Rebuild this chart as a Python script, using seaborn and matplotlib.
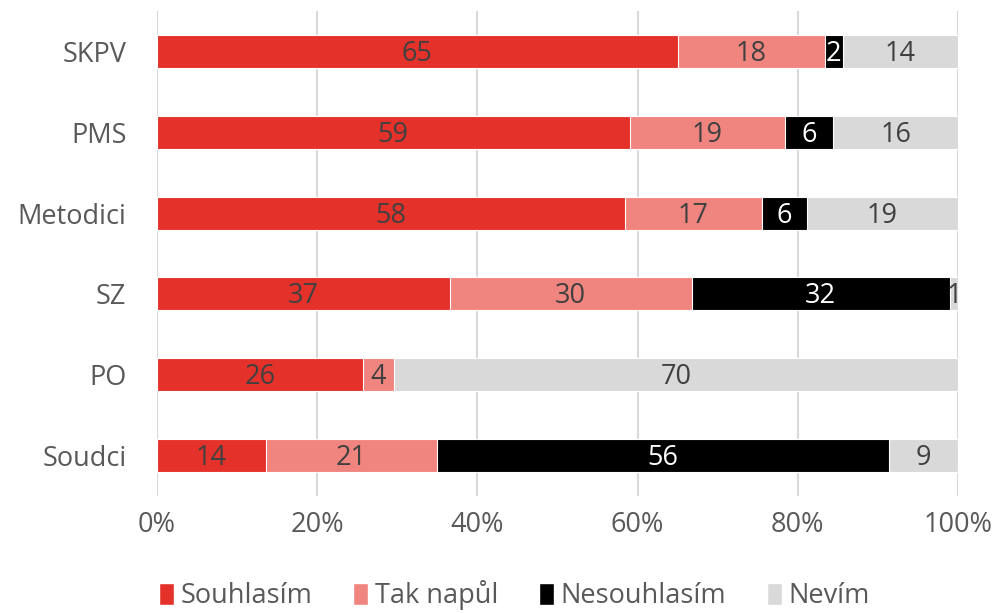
import pandas as pd
import seaborn as sns
import matplotlib.pyplot as plt
from matplotlib.patches import Patch

# data (shares in %)
groups = ['SKPV', 'PMS', 'Metodici', 'SZ', 'PO', 'Soudci']
souhlasim = [65.0, 59.0, 58.4, 36.6, 25.7, 13.6]
tak_napul = [18.4, 19.4, 17.1, 30.2, 3.9, 21.4]
nesouhlasim = [2.2, 6.0, 5.6, 32.3, 0.0, 56.4]
nevim = [14.4, 15.6, 18.9, 1.0, 70.4, 8.6]

series = ['Souhlasím', 'Tak napůl', 'Nesouhlasím', 'Nevím']
colors = ['#E4322B', '#F08580', '#000000', '#D9D9D9']
label_colors = ['#404040', '#404040', '#FFFFFF', '#404040']

df = pd.DataFrame({'group': groups, 'Souhlasím': souhlasim, 'Tak napůl': tak_napul,
                   'Nesouhlasím': nesouhlasim, 'Nevím': nevim})
totals = df[series].sum(axis=1)
shares = df[series].div(totals, axis=0) * 100
cum = shares.cumsum(axis=1)
cum['group'] = df['group']

sns.set_theme(style="white")
plt.rcParams['font.family'] = ['Open Sans', 'DejaVu Sans']
fs = 19.5

fig = plt.figure(figsize=(9.99, 6.13), dpi=100)
ax = fig.add_axes([157 / 999, 1 - 496 / 613, 801 / 999, 485 / 613])

# stacked bars: draw the cumulative sums from the widest to the narrowest
for s, c in reversed(list(zip(series, colors))):
    sns.barplot(data=cum, x=s, y='group', order=groups, color=c, width=0.41,
                saturation=1, edgecolor='white', linewidth=0.8, ax=ax, zorder=3)

# value labels
for i, g in enumerate(groups):
    left = 0
    for s, lc in zip(series, label_colors):
        w = shares.loc[i, s]
        raw = df.loc[i, s]
        if raw > 0:
            ax.text(left + w / 2, i + 0.03, f"{raw:.0f}", ha='center', va='center',
                    fontsize=fs, color=lc, zorder=5)
        left += w

ax.set_xlim(0, 100)
ax.set_xticks(range(0, 101, 20))
ax.set_xticklabels([f"{t}%" for t in range(0, 101, 20)])
ax.grid(axis='x', color='#D9D9D9', linewidth=1.5, zorder=0)
ax.set_axisbelow(True)
ax.set_xlabel('')
ax.set_ylabel('')
for sp in ax.spines.values():
    sp.set_visible(False)
ax.tick_params(axis='both', length=0, labelsize=fs, labelcolor='#595959')
ax.tick_params(axis='x', pad=11)
ax.tick_params(axis='y', pad=22)

handles = [Patch(facecolor=c, label=s) for s, c in zip(series, colors)]
fig.legend(handles=handles, loc='lower center', ncol=4, frameon=False,
           bbox_to_anchor=(0.515, -0.035), fontsize=fs, handlelength=0.55,
           handleheight=0.85, handletextpad=0.25, columnspacing=1.5,
           labelcolor='#595959')

plt.savefig('out.png', dpi=100)
